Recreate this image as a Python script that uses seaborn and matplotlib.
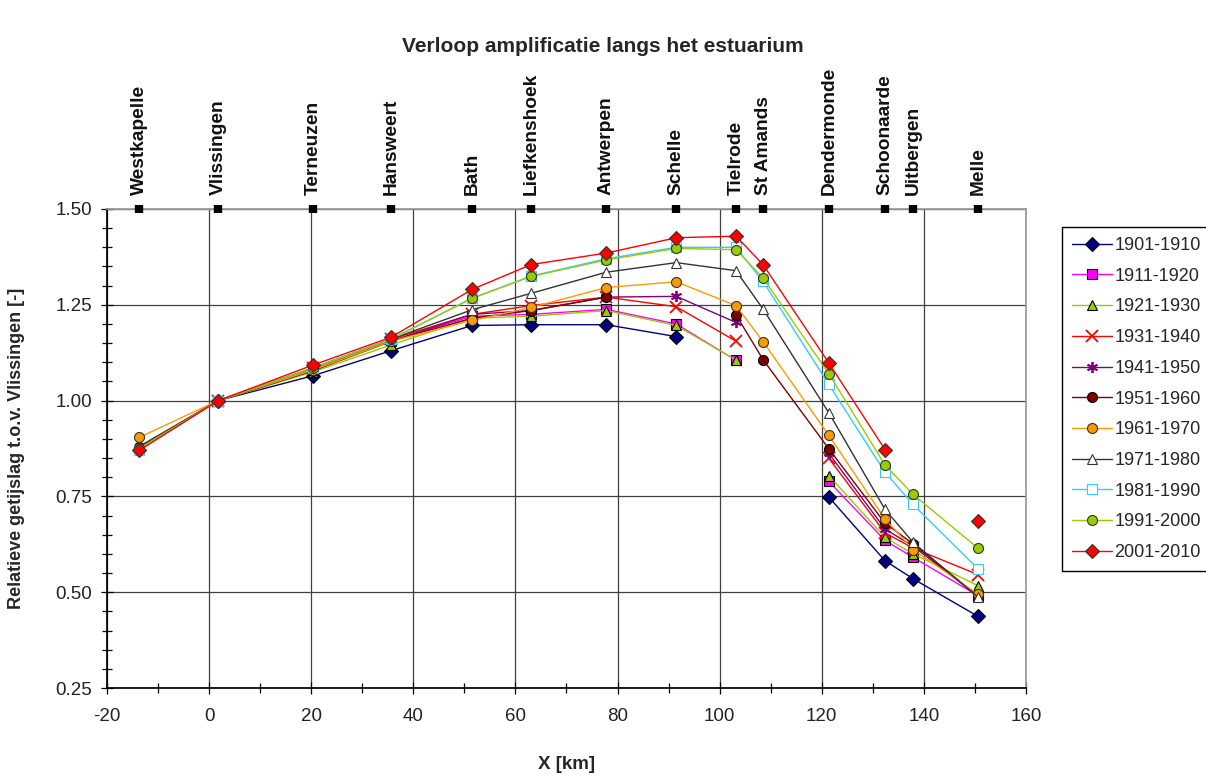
import numpy as np
import pandas as pd
import matplotlib
matplotlib.use("Agg")
import matplotlib.pyplot as plt
import seaborn as sns
from matplotlib.ticker import MultipleLocator, FormatStrFormatter

sns.set_theme(style="white")
plt.rcParams["font.family"] = ["Liberation Sans", "DejaVu Sans"]
plt.rcParams["axes.unicode_minus"] = False

# ------------------------
# DATA
# ------------------------
nan = np.nan

stations = ["Westkapelle", "Vlissingen", "Terneuzen", "Hansweert", "Bath",
            "Liefkenshoek", "Antwerpen", "Schelle", "Tielrode", "St Amands",
            "Dendermonde", "Schoonaarde", "Uitbergen", "Melle"]
station_km = [-13.7, 1.8, 20.4, 35.6, 51.5, 63.1, 77.8, 91.5, 103.2, 108.5,
              121.4, 132.4, 137.9, 150.6]

periods = ["1901-1910", "1911-1920", "1921-1930", "1931-1940", "1941-1950",
           "1951-1960", "1961-1970", "1971-1980", "1981-1990", "1991-2000",
           "2001-2010"]

p1901 = [nan, 1.00, 1.065, 1.130, 1.196, 1.198, 1.198, 1.167, nan, nan, 0.748, 0.582, 0.535, 0.437]
p1911 = [nan, 1.00, 1.080, 1.155, 1.220, 1.225, 1.238, 1.200, 1.105, nan, 0.789, 0.635, 0.591, 0.491]
p1921 = [nan, 1.00, 1.075, 1.145, 1.215, 1.220, 1.235, 1.196, 1.106, nan, 0.804, 0.643, 0.600, 0.517]
p1931 = [nan, 1.00, 1.085, 1.160, 1.225, 1.248, 1.270, 1.245, 1.155, nan, 0.849, 0.655, 0.615, 0.546]
p1941 = [nan, 1.00, 1.080, 1.155, 1.225, 1.235, 1.270, 1.272, 1.204, nan, 0.862, 0.665, 0.620, 0.490]
p1951 = [0.878, 1.00, 1.078, 1.155, 1.215, 1.235, 1.270, nan, 1.224, 1.107, 0.874, 0.680, 0.626, 0.490]
p1961 = [0.904, 1.00, 1.080, 1.155, 1.209, 1.243, 1.295, 1.310, 1.248, 1.154, 0.909, 0.691, 0.611, 0.495]
p1971 = [0.880, 1.00, 1.085, 1.160, 1.237, 1.280, 1.335, 1.360, 1.339, 1.239, 0.968, 0.716, 0.630, 0.487]
p1981 = [0.870, 1.00, 1.085, 1.160, 1.267, 1.325, 1.370, 1.400, 1.400, 1.311, 1.042, 0.813, 0.729, 0.561]
p1991 = [0.875, 1.00, 1.085, 1.160, 1.267, 1.324, 1.367, 1.397, 1.394, 1.320, 1.070, 0.832, 0.755, 0.615]
p2001 = [0.870, 1.00, 1.093, 1.165, 1.290, 1.355, 1.385, 1.425, 1.429, 1.355, 1.098, 0.872, nan, 0.685]

values = [p1901, p1911, p1921, p1931, p1941, p1951, p1961, p1971, p1981, p1991, p2001]

# stijl per reeks (Excel-achtig)
line_colors = ["#000080", "#FF00FF", "#99CC00", "#FF0000", "#800080", "#800000",
               "#FF9900", "#333333", "#33CCFF", "#99CC00", "#FF0000"]
markers = ["D", "s", "^", "x", (6, 2, 0), "o", "o", "^", "s", "o", "D"]
face_colors = ["#000080", "#FF00FF", "#99CC00", "#FF0000", "#800080", "#800000",
               "#FF9900", "white", "white", "#99CC00", "#FF0000"]
edge_colors = ["black", "black", "black", "#FF0000", "#800080", "black",
               "#333333", "#333333", "#33CCFF", "#333333", "#333333"]

# ------------------------
# FIGUUR
# ------------------------
fig = plt.figure(figsize=(12.06, 7.76), dpi=100)
ax = fig.add_axes([0.0887, 0.1134, 0.762, 0.6173])

handles = []
for per, vals, lc, mk, fc, ec in zip(periods, values, line_colors, markers,
                                     face_colors, edge_colors):
    df = pd.DataFrame({"x": station_km, "y": vals})
    # lege cellen -> onderbreking in de lijn
    df["seg"] = df["y"].isna().cumsum()
    df = df.dropna()
    n_before = len(ax.lines)
    kruis = mk in ["x", (6, 2, 0)]
    sns.lineplot(data=df, x="x", y="y", units="seg", estimator=None,
                 color=lc, marker=mk, markersize=8 if kruis else 7.2,
                 markerfacecolor=fc, markeredgecolor=ec,
                 markeredgewidth=1.3 if kruis else 0.8,
                 linewidth=1.0, ax=ax, legend=False)
    handles.append(ax.lines[n_before])

ax.set_xlim(-20, 160)
ax.set_ylim(0.25, 1.5)
ax.xaxis.set_major_locator(MultipleLocator(20))
ax.xaxis.set_minor_locator(MultipleLocator(10))
ax.yaxis.set_major_locator(MultipleLocator(0.25))
ax.yaxis.set_minor_locator(MultipleLocator(0.05))
ax.yaxis.set_major_formatter(FormatStrFormatter("%.2f"))
ax.grid(True, which="major", color="#404040", linewidth=0.9)
ax.tick_params(axis="both", which="major", direction="inout", length=9,
               width=0.9, color="black", labelsize=13.5, labelcolor="#222222")
ax.tick_params(axis="both", which="minor", direction="inout", length=7,
               width=0.9, color="black")
ax.tick_params(axis="x", which="major", pad=10)
ax.tick_params(axis="y", which="major", pad=6)
ax.tick_params(axis="both", which="both", bottom=True, left=True)
for s in ["left", "bottom"]:
    ax.spines[s].set_color("black")
for s in ["top", "right"]:
    ax.spines[s].set_color("#999999")

ax.set_xlabel("X [km]", fontsize=13.5, fontweight="bold", labelpad=22)
ax.set_ylabel("Relatieve getijslag t.o.v. Vlissingen [-]", fontsize=13,
              fontweight="bold", labelpad=22)

# stations bovenaan
ax2 = ax.twiny()
ax2.set_xlim(ax.get_xlim())
ax2.set_xticks(station_km)
ax2.set_xticklabels(stations, rotation=90, fontsize=13.8, fontweight="bold")
ax2.tick_params(axis="x", direction="inout", length=6, width=6, color="black",
                pad=7, labelcolor="#111111")
ax2.grid(False)
for s in ax2.spines.values():
    s.set_visible(False)

fig.suptitle("Verloop amplificatie langs het estuarium", y=0.952,
             fontsize=15, fontweight="bold")

fig.legend(handles, periods, loc="upper left",
           bbox_to_anchor=(1062 / 1206, 1 - 227 / 776),
           fontsize=13, frameon=True, fancybox=False, edgecolor="black",
           framealpha=1, labelspacing=0.76, handlelength=2.2,
           handletextpad=0.15, borderpad=0.55, borderaxespad=0)

plt.savefig("out.png", dpi=100)
